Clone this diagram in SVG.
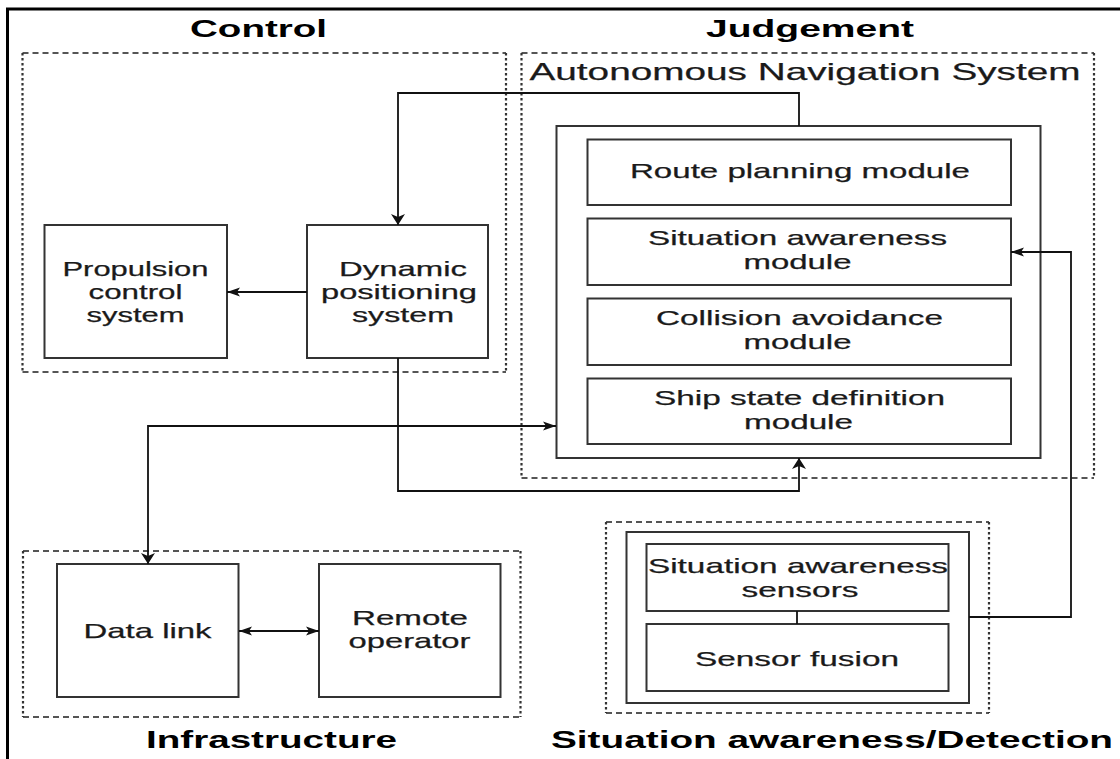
<svg xmlns="http://www.w3.org/2000/svg" width="1120" height="759" viewBox="0 0 1120 759">
  <style>
    .box { fill: #ffffff; stroke: #333333; stroke-width: 2; }
    .group-h { fill: none; stroke: #555555; stroke-width: 2; stroke-dasharray: 6 4; }
    .group-v { fill: none; stroke: #333333; stroke-width: 2.2; stroke-dasharray: 2.5 2.5; }
    .wire { fill: none; stroke: #111111; stroke-width: 1.8; }
    .lbl { font-family: "Liberation Sans", Arial, sans-serif; font-size: 21px; fill: #1a1a1a; text-anchor: middle; stroke: #1a1a1a; stroke-width: 0.25; }
    .title { font-family: "Liberation Sans", Arial, sans-serif; font-size: 24px; font-weight: bold; fill: #000000; text-anchor: middle; }
    .subtitle { font-family: "Liberation Sans", Arial, sans-serif; font-size: 24px; fill: #1a1a1a; text-anchor: middle; stroke: #1a1a1a; stroke-width: 0.25; }
  </style>
  <defs>
    <marker id="ah" markerUnits="userSpaceOnUse" markerWidth="14" markerHeight="12" viewBox="0 -6 14 12" refX="13" refY="0" orient="auto-start-reverse">
      <path d="M0,-4.5 L13,0 L0,4.5 L3,0 Z" fill="#111111"/>
    </marker>
    <marker id="av" markerUnits="userSpaceOnUse" markerWidth="12" markerHeight="16" viewBox="0 -8 12 16" refX="11" refY="0" orient="auto-start-reverse">
      <path d="M0,-7 L11,0 L0,7 L3,0 Z" fill="#111111"/>
    </marker>
  </defs>

  <rect width="1120" height="759" fill="#ffffff"/>
  <!-- outer frame -->
  <path d="M1125,9 H7.5 V765" fill="none" stroke="#000000" stroke-width="3"/>

  <!-- group titles -->
  <text class="title" x="258.5" y="37" textLength="137" lengthAdjust="spacingAndGlyphs">Control</text>
  <text class="title" x="810" y="37" textLength="208" lengthAdjust="spacingAndGlyphs">Judgement</text>
  <text class="title" x="271.5" y="748" textLength="251" lengthAdjust="spacingAndGlyphs">Infrastructure</text>
  <text class="title" x="832" y="748" textLength="562" lengthAdjust="spacingAndGlyphs">Situation awareness/Detection</text>

  <!-- dashed group frames: horizontal edges dashed, vertical edges dotted -->
  <g id="control-group">
    <path class="group-h" d="M22.5,53 H506 M22.5,372 H506"/>
    <path class="group-v" d="M22.5,53 V372 M506,53 V372"/>
  </g>
  <g id="judgement-group">
    <path class="group-h" d="M521.5,53 H1094 M521.5,478 H1094"/>
    <path class="group-v" d="M521.5,53 V478 M1094,53 V478"/>
    <text class="subtitle" x="805" y="80" textLength="551" lengthAdjust="spacingAndGlyphs">Autonomous Navigation System</text>
  </g>
  <g id="infrastructure-group">
    <path class="group-h" d="M23,551 H520.5 M23,717 H520.5"/>
    <path class="group-v" d="M23,551 V717 M520.5,551 V717"/>
  </g>
  <g id="detection-group">
    <path class="group-h" d="M606,522 H989 M606,713 H989"/>
    <path class="group-v" d="M606,522 V713 M989,522 V713"/>
  </g>

  <!-- control nodes -->
  <g id="propulsion-control-system">
    <rect class="box" x="44.5" y="225" width="182.5" height="133"/>
    <text class="lbl" x="135.5" y="276" textLength="146" lengthAdjust="spacingAndGlyphs">Propulsion</text>
    <text class="lbl" x="135.5" y="299" textLength="94" lengthAdjust="spacingAndGlyphs">control</text>
    <text class="lbl" x="135.5" y="322" textLength="98" lengthAdjust="spacingAndGlyphs">system</text>
  </g>
  <g id="dynamic-positioning-system">
    <rect class="box" x="307" y="225" width="181" height="133"/>
    <text class="lbl" x="403" y="276" textLength="128" lengthAdjust="spacingAndGlyphs">Dynamic</text>
    <text class="lbl" x="399" y="299" textLength="156" lengthAdjust="spacingAndGlyphs">positioning</text>
    <text class="lbl" x="403" y="322" textLength="102" lengthAdjust="spacingAndGlyphs">system</text>
  </g>

  <!-- autonomous navigation system -->
  <g id="autonomous-navigation-system">
    <rect class="box" x="556.5" y="126" width="484" height="332"/>
  </g>
  <g id="route-planning-module">
    <rect class="box" x="587.5" y="139.5" width="423.5" height="65.5"/>
    <text class="lbl" x="800" y="178" textLength="340" lengthAdjust="spacingAndGlyphs">Route planning module</text>
  </g>
  <g id="situation-awareness-module">
    <rect class="box" x="587.5" y="218.5" width="423.5" height="66.5"/>
    <text class="lbl" x="797.5" y="244.5" textLength="299" lengthAdjust="spacingAndGlyphs">Situation awareness</text>
    <text class="lbl" x="797.5" y="268.5" textLength="108" lengthAdjust="spacingAndGlyphs">module</text>
  </g>
  <g id="collision-avoidance-module">
    <rect class="box" x="587.5" y="298.5" width="423.5" height="66.5"/>
    <text class="lbl" x="799.5" y="325" textLength="287" lengthAdjust="spacingAndGlyphs">Collision avoidance</text>
    <text class="lbl" x="797.5" y="348.5" textLength="108" lengthAdjust="spacingAndGlyphs">module</text>
  </g>
  <g id="ship-state-definition-module">
    <rect class="box" x="587.5" y="378.5" width="423.5" height="65.5"/>
    <text class="lbl" x="799.5" y="405" textLength="291" lengthAdjust="spacingAndGlyphs">Ship state definition</text>
    <text class="lbl" x="798.5" y="428.5" textLength="109" lengthAdjust="spacingAndGlyphs">module</text>
  </g>

  <!-- infrastructure nodes -->
  <g id="data-link">
    <rect class="box" x="57" y="564" width="181.5" height="133"/>
    <text class="lbl" x="147.5" y="638" textLength="128" lengthAdjust="spacingAndGlyphs">Data link</text>
  </g>
  <g id="remote-operator">
    <rect class="box" x="319" y="564" width="181.5" height="133"/>
    <text class="lbl" x="410" y="625" textLength="116" lengthAdjust="spacingAndGlyphs">Remote</text>
    <text class="lbl" x="409.5" y="648" textLength="122" lengthAdjust="spacingAndGlyphs">operator</text>
  </g>

  <!-- detection nodes -->
  <g id="detection-unit">
    <rect class="box" x="626.5" y="532" width="342.5" height="171"/>
  </g>
  <g id="situation-awareness-sensors">
    <rect class="box" x="646.5" y="544" width="302" height="67"/>
    <text class="lbl" x="798" y="572.5" textLength="300" lengthAdjust="spacingAndGlyphs">Situation awareness</text>
    <text class="lbl" x="800" y="596.5" textLength="117" lengthAdjust="spacingAndGlyphs">sensors</text>
  </g>
  <g id="sensor-fusion">
    <rect class="box" x="646.5" y="624" width="302" height="67"/>
    <text class="lbl" x="797" y="666" textLength="204" lengthAdjust="spacingAndGlyphs">Sensor fusion</text>
  </g>

  <!-- connectors, drawn over the node frames -->
  <g id="connectors">
    <path class="wire" d="M799,126 V93 H398 V225" marker-end="url(#av)"/>
    <path class="wire" d="M307,292 H227" marker-end="url(#ah)"/>
    <path class="wire" d="M398,358 V491 H799 V458" marker-end="url(#av)"/>
    <path class="wire" d="M148,564 V426 H556" marker-start="url(#av)" marker-end="url(#ah)"/>
    <path class="wire" d="M239,631 H319" marker-start="url(#ah)" marker-end="url(#ah)"/>
    <path class="wire" d="M969,617 H1071 V252 H1011" marker-end="url(#ah)"/>
    <path class="wire" d="M797,611 V624"/>
  </g>
</svg>
